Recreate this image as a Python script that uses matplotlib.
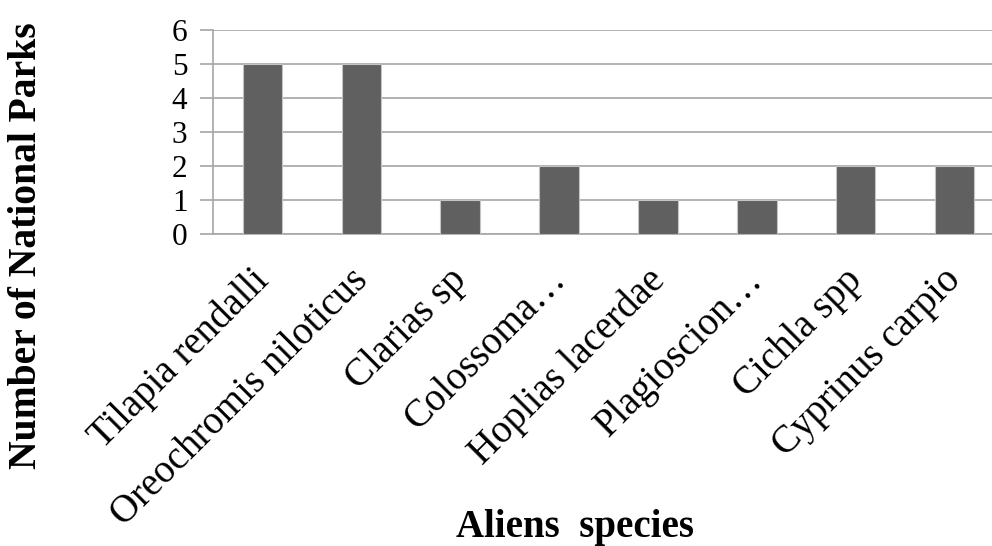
import matplotlib.pyplot as plt
from matplotlib.transforms import ScaledTranslation

species = ["Tilapia rendalli", "Oreochromis niloticus", "Clarias sp", "Colossoma\u2026",
           "Hoplias lacerdae", "Plagioscion\u2026", "Cichla spp", "Cyprinus carpio"]
parks = [5, 5, 1, 2, 1, 1, 2, 2]
yticks = [0, 1, 2, 3, 4, 5, 6]

plt.rcParams['font.family'] = ['Liberation Serif', 'DejaVu Serif']

fig = plt.figure(figsize=(9.92, 5.46), dpi=100)
ax = fig.add_axes([213/992, 1 - 234/546, (1004 - 213)/992, (234 - 30)/546])

x = list(range(len(species)))
ax.bar(x, parks, width=0.40, color="#606060", edgecolor="#c4c4c4", linewidth=0.8, zorder=3)

ax.set_xlim(-0.5, len(species) - 0.5)
ax.set_ylim(0, 6)
ax.set_yticks(yticks)
ax.set_yticklabels([str(v) for v in yticks], fontsize=22.5)
ax.grid(axis="y", color="#a6a6a6", linewidth=1.2, zorder=0)
ax.tick_params(axis="y", length=9.4, width=1.2, color="#a6a6a6", pad=9)
ax.tick_params(axis="x", length=0, pad=20)

for s in ["top", "right"]:
    ax.spines[s].set_visible(False)
for s in ["left", "bottom"]:
    ax.spines[s].set_color("#a6a6a6")
    ax.spines[s].set_linewidth(1.2)

ax.set_xticks(x)
ax.set_xticklabels(species, fontsize=28, rotation=45, ha="right", va="top",
                   rotation_mode="anchor")
# nudge the slanted labels so their ends sit just left of each category
shift = ScaledTranslation(-12/100, 0, fig.dpi_scale_trans)
for lab in ax.get_xticklabels():
    lab.set_transform(lab.get_transform() + shift)

fig.text(27/992, 1 - 246/546, "Number of National Parks", rotation=90,
         ha="center", va="center", fontsize=28.5, fontweight="bold")
fig.text(575/992, 1 - 537/546, "Aliens  species", ha="center", va="baseline",
         fontsize=28, fontweight="bold")

fig.savefig("out.png", dpi=100)
